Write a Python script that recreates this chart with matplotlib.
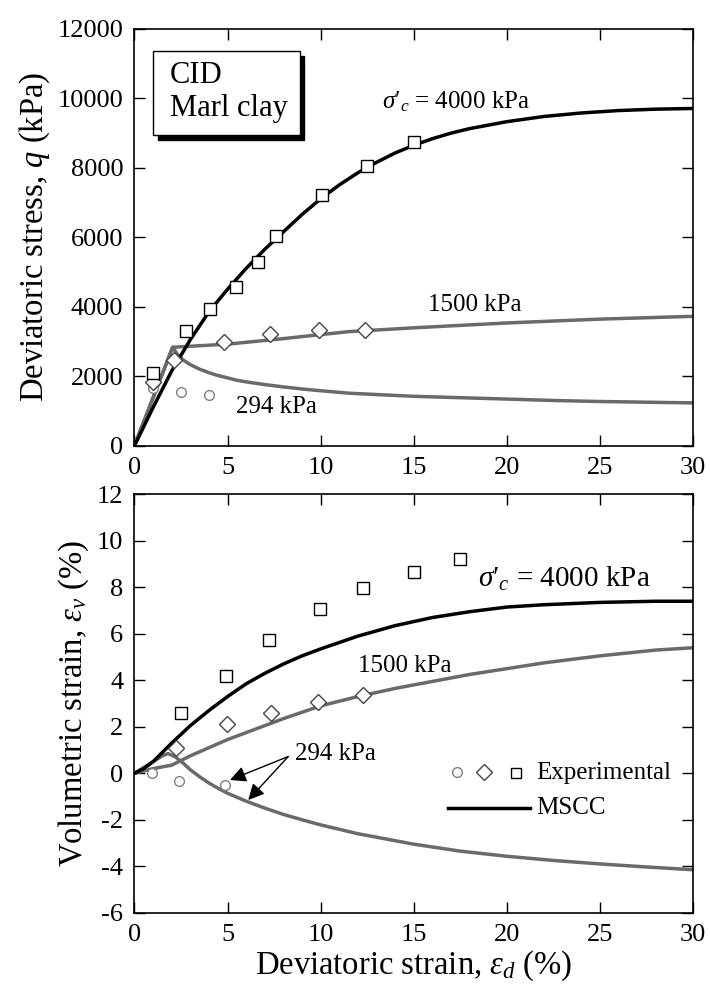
import numpy as np
import matplotlib
matplotlib.use("Agg")
import matplotlib.pyplot as plt
from matplotlib.patches import Rectangle

plt.rcParams['font.family'] = ['Liberation Serif', 'DejaVu Serif']
plt.rcParams['mathtext.fontset'] = 'custom'
plt.rcParams['mathtext.rm'] = 'Liberation Serif'
plt.rcParams['mathtext.it'] = 'Liberation Serif:italic'
plt.rcParams['axes.unicode_minus'] = False

# ---- experimental points, q (kPa) ----
q_x_4000 = [1.0, 2.75, 4.05, 5.45, 6.65, 7.6, 10.1, 12.5, 15.0]
q_y_4000 = [2080, 3300, 3920, 4570, 5290, 6030, 7200, 8050, 8740]
q_x_1500 = [1.0, 2.1, 4.8, 7.3, 9.9, 12.4]
q_y_1500 = [1840, 2465, 2970, 3210, 3330, 3330]
q_x_294 = [1.0, 2.48, 4.02]
q_y_294 = [1660, 1550, 1460]

# ---- experimental points, volumetric strain (%) ----
v_x_4000 = [2.48, 4.91, 7.24, 9.96, 12.29, 15.0, 17.5]
v_y_4000 = [2.58, 4.19, 5.74, 7.06, 7.97, 8.65, 9.2]
v_x_1500 = [2.23, 4.95, 7.31, 9.87, 12.29]
v_y_1500 = [1.10, 2.11, 2.58, 3.08, 3.37]
v_x_294 = [0.92, 2.41, 4.86]
v_y_294 = [0.0, -0.32, -0.50]

# ---- MSCC model curves ----
mq_x_4000 = [0, 1, 2, 3, 4, 5, 6, 7, 8, 9, 10, 11, 12, 13, 14, 15, 16, 17, 18,
             20, 22, 24, 26, 28, 30]
mq_y_4000 = [0, 1100, 2150, 3050, 3850, 4500, 5100, 5650, 6150, 6650, 7100, 7500,
             7850, 8150, 8420, 8640, 8830, 8990, 9120, 9320, 9470, 9570, 9640,
             9680, 9700]
mq_x_1500 = [0, 2.05, 3, 5, 8, 11.5, 15, 20, 25, 30]
mq_y_1500 = [0, 2830, 2860, 2920, 3080, 3280, 3390, 3530, 3640, 3720]
mq_x_294 = [0, 2.05, 2.3, 2.6, 3.0, 3.5, 4.0, 4.4, 5.0, 5.5, 6.3, 7.1, 8, 9, 10,
            11.5, 13, 15, 17.5, 20, 22.5, 25, 27.5, 30]
mq_y_294 = [0, 2830, 2630, 2470, 2330, 2200, 2100, 2030, 1950, 1880, 1810, 1750,
            1690, 1630, 1580, 1510, 1470, 1420, 1380, 1340, 1300, 1270, 1250, 1230]

mv_x_4000 = [0, 0.5, 1, 1.5, 2, 3, 4, 5, 6, 7, 8, 9, 10, 12, 14, 16, 18, 20, 22,
             25, 28, 30]
mv_y_4000 = [0, 0.2, 0.5, 0.9, 1.3, 2.05, 2.7, 3.3, 3.85, 4.3, 4.7, 5.05, 5.35,
             5.9, 6.35, 6.7, 6.95, 7.15, 7.25, 7.35, 7.4, 7.4]
mv_x_1500 = [0, 1, 2, 3, 4, 5, 6, 8, 10, 12, 14, 16, 18, 20, 22, 25, 28, 30]
mv_y_1500 = [0, 0.2, 0.35, 0.75, 1.1, 1.45, 1.75, 2.35, 2.9, 3.3, 3.65, 3.95, 4.25,
             4.5, 4.75, 5.05, 5.3, 5.4]
mv_x_294 = [0, 0.5, 1, 1.5, 1.8, 2.2, 2.6, 3, 3.5, 4, 4.5, 5, 6, 7, 8, 9, 10, 12,
            15, 17.5, 20, 22.5, 25, 27.5, 30]
mv_y_294 = [0, 0.25, 0.5, 0.75, 0.85, 0.7, 0.45, 0.15, -0.15, -0.42, -0.65, -0.86,
            -1.2, -1.5, -1.77, -2.0, -2.22, -2.6, -3.05, -3.35, -3.57, -3.75, -3.9,
            -4.03, -4.15]

xticks = [0, 5, 10, 15, 20, 25, 30]
q_ticks = [0, 2000, 4000, 6000, 8000, 10000, 12000]
v_ticks = [-6, -4, -2, 0, 2, 4, 6, 8, 10, 12]

gray = '#6a6a6a'
fs = 19
lfs = 23.5

fig = plt.figure(figsize=(7.1, 9.97), dpi=100)
ax1 = fig.add_axes([0.1894, 0.553, 0.7866, 0.4184])
ax2 = fig.add_axes([0.1894, 0.0845, 0.7866, 0.4197])


def style(ax):
    ax.set_xlim(0, 30)
    ax.set_xticks(xticks)
    ax.tick_params(direction='in', length=8, width=1, top=True, right=True,
                   labelsize=fs, pad=8)
    for s in ax.spines.values():
        s.set_linewidth(1.2)


sigma_lbl = "$\\sigma\\prime_c$ = 4000 kPa"

# top panel
ax1.plot(mq_x_294, mq_y_294, color=gray, lw=2.5)
ax1.plot(mq_x_1500, mq_y_1500, color=gray, lw=2.5)
ax1.plot(mq_x_4000, mq_y_4000, color='black', lw=2.5)
ax1.plot(q_x_294, q_y_294, 'o', ms=7, mfc='white', mec='#808080', mew=1)
ax1.plot(q_x_1500, q_y_1500, 'D', ms=8.5, mfc='white', mec='#444444', mew=1)
ax1.plot(q_x_4000, q_y_4000, 's', ms=8.5, mfc='white', mec='black', mew=1)
style(ax1)
ax1.set_ylim(0, 12000)
ax1.set_yticks(q_ticks)
ax1.set_ylabel('Deviatoric stress, $q$ (kPa)', fontsize=lfs, labelpad=4)

ax1.add_patch(Rectangle((0.042, 0.733), 0.262, 0.201, transform=ax1.transAxes,
                        facecolor='black', edgecolor='black', zorder=5))
ax1.add_patch(Rectangle((0.034, 0.745), 0.262, 0.201, transform=ax1.transAxes,
                        facecolor='white', edgecolor='black', lw=1, zorder=6))
ax1.text(0.063, 0.888, 'CID', transform=ax1.transAxes, fontsize=22,
         va='center', ha='left', zorder=7)
ax1.text(0.063, 0.808, 'Marl clay', transform=ax1.transAxes, fontsize=22,
         va='center', ha='left', zorder=7)

ax1.text(17.3, 9900, sigma_lbl, fontsize=18, ha='center', va='center')
ax1.text(18.3, 4050, '1500 kPa', fontsize=18, ha='center', va='center')
ax1.text(7.6, 1120, '294 kPa', fontsize=18, ha='center', va='center')

# bottom panel
ax2.plot(mv_x_294, mv_y_294, color=gray, lw=2.5)
ax2.plot(mv_x_1500, mv_y_1500, color=gray, lw=2.5)
ax2.plot(mv_x_4000, mv_y_4000, color='black', lw=2.5)
ax2.plot(v_x_294, v_y_294, 'o', ms=7, mfc='white', mec='#808080', mew=1)
ax2.plot(v_x_1500, v_y_1500, 'D', ms=8.5, mfc='white', mec='#444444', mew=1)
ax2.plot(v_x_4000, v_y_4000, 's', ms=8.5, mfc='white', mec='black', mew=1)
style(ax2)
ax2.set_ylim(-6, 12)
ax2.set_yticks(v_ticks)
ax2.set_ylabel('Volumetric strain, $\\varepsilon_v$ (%)', fontsize=lfs, labelpad=4)
ax2.set_xlabel('Deviatoric strain, $\\varepsilon_d$ (%)', fontsize=lfs, labelpad=2)

ax2.text(23.1, 8.35, sigma_lbl, fontsize=21, ha='center', va='center')
ax2.text(14.5, 4.6, '1500 kPa', fontsize=18, ha='center', va='center')
ax2.text(10.8, 0.83, '294 kPa', fontsize=18, ha='center', va='center')
for tip in [(5.13, -0.29), (6.11, -1.15)]:
    ax2.annotate('', xy=tip, xytext=(8.26, 0.72),
                 arrowprops=dict(arrowstyle='-|>', color='black', lw=1,
                                 mutation_scale=24, shrinkA=0, shrinkB=0))

# legend drawn by hand
ax2.plot([17.3], [0.07], 'o', ms=7, mfc='white', mec='#808080', mew=1)
ax2.plot([18.8], [0.07], 'D', ms=8.5, mfc='white', mec='#444444', mew=1)
ax2.plot([20.5], [0.0], 's', ms=7.5, mfc='white', mec='black', mew=1)
ax2.text(21.6, 0.0, 'Experimental', fontsize=18, ha='left', va='center')
ax2.plot([16.85, 21.24], [-1.48, -1.48], color='black', lw=2.5)
ax2.text(21.6, -1.48, 'MSCC', fontsize=18, ha='left', va='center')

fig.savefig('out.png', dpi=100)
